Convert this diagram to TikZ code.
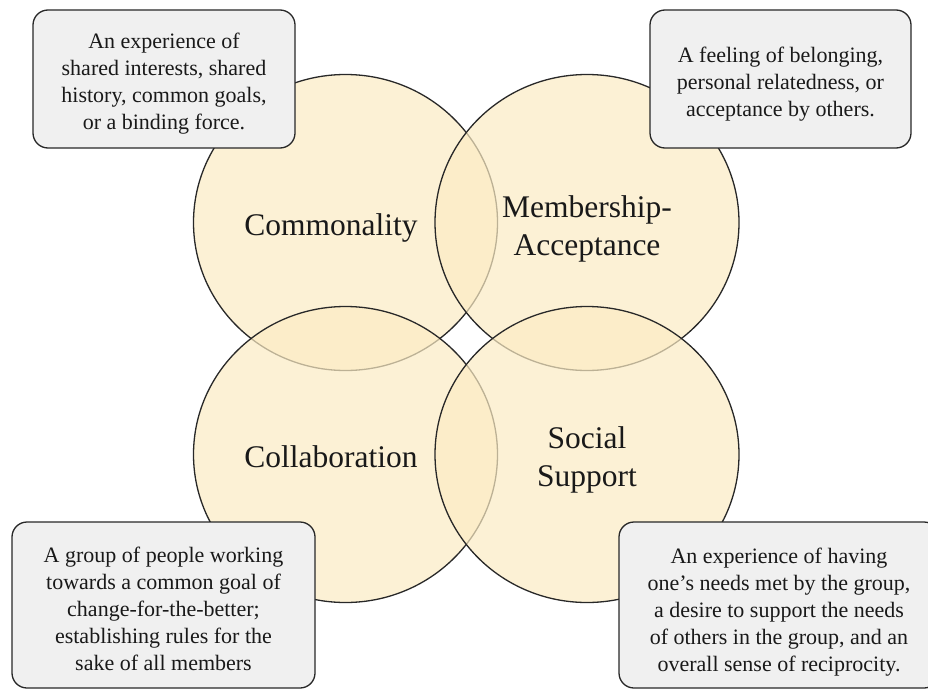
\documentclass[tikz,border=0pt]{standalone}
\usepackage{fontspec}
\setmainfont{Liberation Serif}
\usetikzlibrary{shapes.geometric}
\definecolor{cream}{RGB}{252,236,196}
\definecolor{boxfill}{RGB}{240,240,240}
\definecolor{edge}{RGB}{40,40,40}
\begin{document}
\begin{tikzpicture}[x=1pt,y=-1pt,
  ring/.style={ellipse, minimum width=304pt, minimum height=296pt, inner sep=0pt,
    fill=cream, fill opacity=0.7, draw=edge, line width=1.3pt},
  lbl/.style={font=\fontsize{31.5}{37.5}\selectfont, align=center, text=black!90},
  note/.style={rectangle, rounded corners=15pt, fill=boxfill, draw=edge, line width=1.3pt,
    inner sep=0pt},
  notetext/.style={align=center, inner sep=0pt, font=\fontsize{22}{27}\selectfont, text=black!90}]
\clip (0,0) rectangle (928,690);
\fill[white] (0,0) rectangle (928,690);
% circles
\node[ring] (c1) at (345.5,222.5) {};
\node[ring] (c2) at (587,222.5) {};
\node[ring] (c3) at (345.5,454.5) {};
\node[ring] (c4) at (587,454.5) {};
% labels
\node[lbl] (l1) at (331,228) {Commonality};
\node[lbl] (l2) at (587,229) {Membership-\\Acceptance};
\node[lbl] (l3) at (331,457) {Collaboration};
\node[lbl] (l4) at (587,460) {Social\\Support};
% notes
\node[note, minimum width=262pt, minimum height=138pt] (n1) at (164,79) {};
\node[notetext] (t1) at (164,83.5)
  {An experience of\\shared interests, shared\\history, common goals,\\or a binding force.};
\node[note, minimum width=261pt, minimum height=138pt] (n2) at (780.5,79) {};
\node[notetext] (t2) at (780.5,84)
  {A feeling of belonging,\\personal relatedness, or\\acceptance by others.};
\node[note, minimum width=303pt, minimum height=166pt] (n3) at (163.5,605) {};
\node[notetext] (t3) at (163.5,609)
  {A group of people working\\towards a common goal of\\change-for-the-better;\\establishing rules for the\\sake of all members};
\node[note, minimum width=320pt, minimum height=166pt] (n4) at (779,605) {};
\node[notetext] (t4) at (779,612)
  {An experience of having\\one’s needs met by the group,\\a desire to support the needs\\of others in the group, and an\\overall sense of reciprocity.};
\end{tikzpicture}
\end{document}
